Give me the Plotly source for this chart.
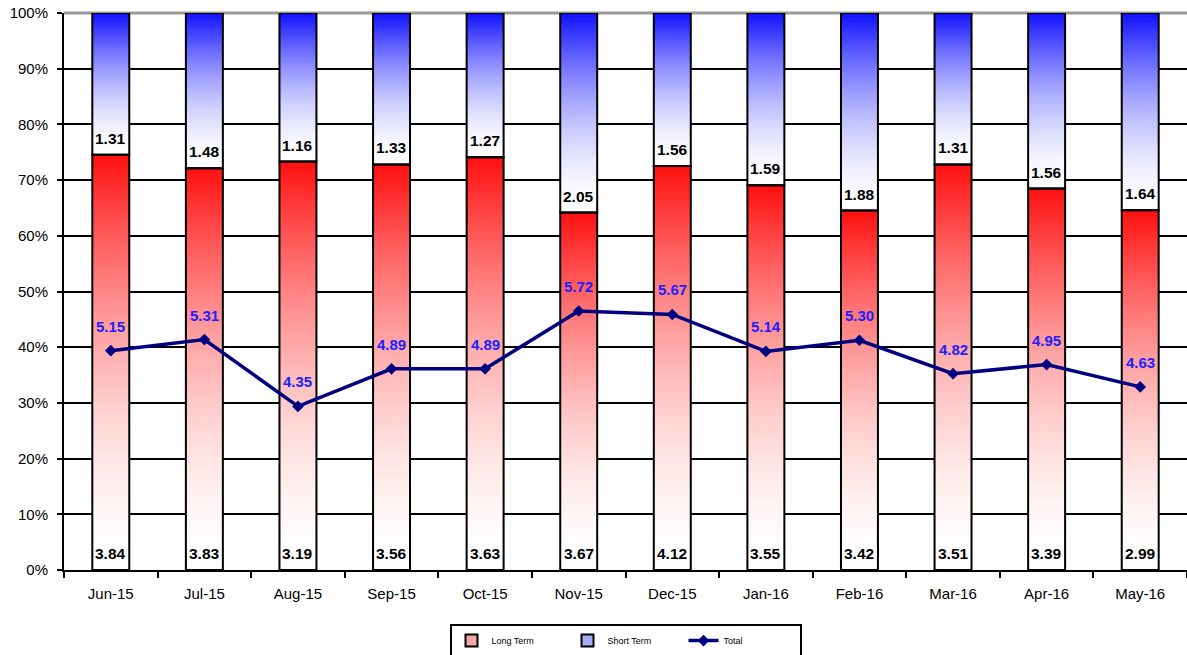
import plotly.graph_objects as go

# Monthly balances (long term / short term) and the reported total
months = ["Jun-15", "Jul-15", "Aug-15", "Sep-15", "Oct-15", "Nov-15",
          "Dec-15", "Jan-16", "Feb-16", "Mar-16", "Apr-16", "May-16"]
long_term = [3.84, 3.83, 3.19, 3.56, 3.63, 3.67, 4.12, 3.55, 3.42, 3.51, 3.39, 2.99]
short_term = [1.31, 1.48, 1.16, 1.33, 1.27, 2.05, 1.56, 1.59, 1.88, 1.31, 1.56, 1.64]
total = [5.15, 5.31, 4.35, 4.89, 4.89, 5.72, 5.67, 5.14, 5.30, 4.82, 4.95, 4.63]

FONT = "Liberation Sans, Arial, sans-serif"
N_STEPS = 120          # slices used to paint each vertical gradient
GAMMA = 1.7            # gradient ramps faster towards the top of a segment
RED_END = (255, 16, 16)
BLUE_END = (16, 16, 255)
NAVY = "#000080"

lt_share = [lt / (lt + st) for lt, st in zip(long_term, short_term)]
st_share = [st / (lt + st) for lt, st in zip(long_term, short_term)]


def shade(end, t):
    f = t ** GAMMA
    r, g, b = (round(255 + (c - 255) * f) for c in end)
    return f"rgb({r},{g},{b})"


def gradient_bar(lows, heights, end):
    """Paint each stacked segment as thin slices fading from white to `end`."""
    xs, bases, ys, colors = [], [], [], []
    for m, lo, h in zip(months, lows, heights):
        step = h / N_STEPS
        for k in range(N_STEPS):
            xs.append(m)
            bases.append(lo + k * step)
            # slight overlap hides seams between neighbouring slices
            ys.append(step * 1.6 if k < N_STEPS - 1 else step)
            colors.append(shade(end, (k + 0.5) / N_STEPS))
    return go.Bar(x=xs, y=ys, base=bases,
                  marker=dict(color=colors, line=dict(width=0)),
                  showlegend=False, hoverinfo="skip")


fig = go.Figure()

fig.add_trace(gradient_bar([0] * len(months), lt_share, RED_END))
fig.add_trace(gradient_bar(lt_share, st_share, BLUE_END))

# segment outlines
fig.add_trace(go.Bar(x=months, y=lt_share, base=[0] * len(months),
                     marker=dict(color="rgba(0,0,0,0)", line=dict(color="black", width=2)),
                     showlegend=False, customdata=long_term,
                     hovertemplate="%{x}<br>Long Term: %{customdata}<extra></extra>"))
fig.add_trace(go.Bar(x=months, y=st_share, base=lt_share,
                     marker=dict(color="rgba(0,0,0,0)", line=dict(color="black", width=2)),
                     showlegend=False, customdata=short_term,
                     hovertemplate="%{x}<br>Short Term: %{customdata}<extra></extra>"))

# legend entries for the two bar series
fig.add_trace(go.Bar(x=[None], y=[None], name="Long Term",
                     marker=dict(color="#F7A8A8", line=dict(color="black", width=2))))
fig.add_trace(go.Bar(x=[None], y=[None], name="Short Term",
                     marker=dict(color="#A8A8F7", line=dict(color="black", width=2))))

fig.add_trace(go.Scatter(x=months, y=total, yaxis="y2", name="Total",
                         mode="lines+markers",
                         line=dict(color=NAVY, width=3.5),
                         marker=dict(symbol="diamond", size=9, color=NAVY)))

annotations = []
bar_font = dict(family=FONT, size=15.5, color="black", weight="bold")
for m, lt, st, lo in zip(months, long_term, short_term, lt_share):
    annotations.append(dict(x=m, y=0, yref="y", text=f"{lt:.2f}", showarrow=False,
                            yanchor="bottom", yshift=6, font=bar_font))
    annotations.append(dict(x=m, y=lo, yref="y", text=f"{st:.2f}", showarrow=False,
                            yanchor="bottom", yshift=6, font=bar_font))
for m, t in zip(months, total):
    annotations.append(dict(x=m, y=t, yref="y2", text=f"{t:.2f}", showarrow=False,
                            yanchor="bottom", yshift=14,
                            font=dict(family=FONT, size=15, color="#2020FF", weight="bold")))

fig.update_layout(
    width=1187, height=655,
    margin=dict(l=64, r=0, t=13, b=85, autoexpand=False),
    paper_bgcolor="white", plot_bgcolor="white",
    barmode="overlay", bargap=0.605,
    font=dict(family=FONT, color="black"),
    xaxis=dict(type="category", categoryorder="array", categoryarray=months,
               range=[-0.5, len(months) - 0.5], autorange=False,
               tickson="boundaries", ticks="outside",
               ticklen=6, tickwidth=2, tickcolor="black",
               showline=True, linecolor="black", linewidth=2,
               showgrid=False, tickfont=dict(size=15), ticklabelstandoff=9),
    yaxis=dict(range=[0, 1], dtick=0.1, tickformat=".0%",
               showgrid=True, gridcolor="black", gridwidth=2,
               showline=True, linecolor="black", linewidth=2,
               ticks="outside", ticklen=5, tickwidth=2, tickcolor="black",
               zeroline=False, tickfont=dict(size=15), ticklabelstandoff=6),
    yaxis2=dict(overlaying="y", range=[2, 10], visible=False),
    shapes=[dict(type="line", xref="paper", yref="paper", x0=0, x1=1, y0=1, y1=1,
                 line=dict(color="#999999", width=3), layer="between")],
    annotations=annotations,
    legend=dict(orientation="h", x=0.5, xanchor="center", y=-0.097, yanchor="top",
                bordercolor="black", borderwidth=2, bgcolor="white",
                font=dict(size=9), entrywidth=71, entrywidthmode="pixels",
                itemwidth=30),
)

fig.write_html("out.html")
